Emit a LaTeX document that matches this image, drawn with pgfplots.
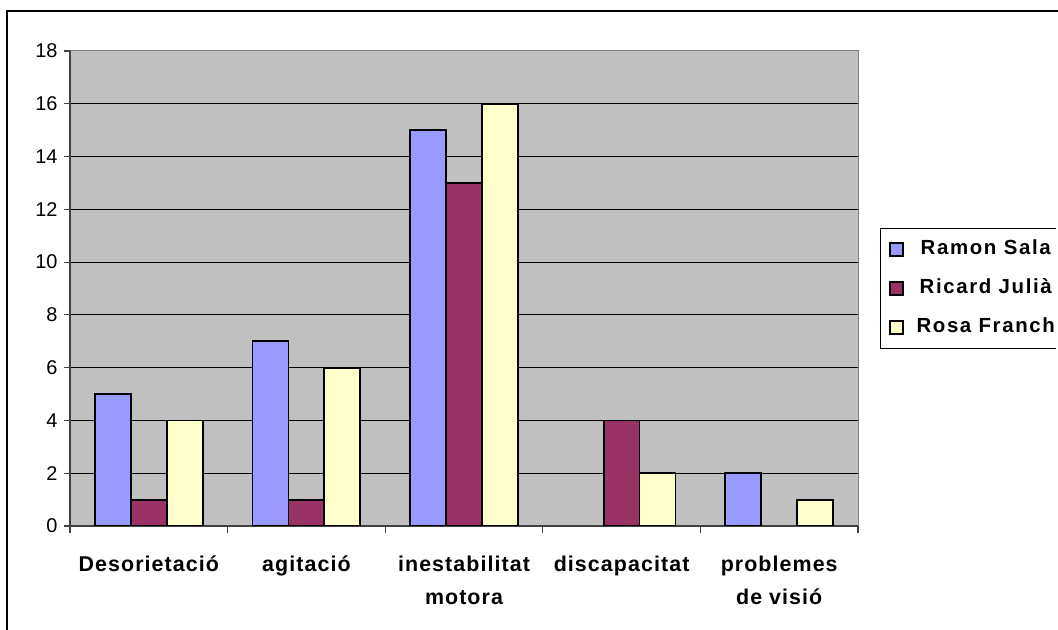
\documentclass[border=0pt]{standalone}
\usepackage{pgfplots}
\pgfplotsset{compat=1.18}
\usepackage{fontspec}
\setmainfont{Liberation Sans}
\newfontfamily\catfont[LetterSpace=5]{Liberation Sans}
\newfontfamily\legfont[LetterSpace=8]{Liberation Sans}
\definecolor{ramon}{HTML}{9999FF}
\definecolor{ricard}{HTML}{993366}
\definecolor{rosa}{HTML}{FFFFCC}
\definecolor{plotbg}{HTML}{C0C0C0}

\begin{document}
\begin{tikzpicture}
\path[use as bounding box] (0bp,0bp) rectangle (1058bp,630bp);
% chart frame (runs off the right and bottom edges)
\draw[line width=2bp] (1058bp,619bp) -- (7bp,619bp) -- (7bp,0bp);
\begin{axis}[
  at={(70bp,104bp)}, anchor=south west,
  scale only axis, width=788bp, height=475bp,
  xmin=-0.5, xmax=4.5, ymin=0, ymax=18,
  ybar=0pt, bar width=0.228,
  axis x line*=bottom, axis y line*=left,
  axis line style={black!75, line width=1.3bp},
  axis background/.style={fill=plotbg, draw=black!50, line width=1bp},
  ytick={0,2,...,16},
  extra y ticks={18}, extra y tick style={grid=none},
  ymajorgrids, major grid style={black, line width=1bp},
  xtick={0,...,4},
  xticklabels={Desorietació, agitació, {inestabilitat\\motora}, discapacitat, {problemes\\de visió}},
  minor xtick={-0.5,0.5,...,4.5},
  tick align=outside,
  major tick length=6bp, minor tick length=7bp,
  major x tick style={draw=none},
  minor x tick style={black!75, line width=1.2bp},
  y tick style={black!75, line width=1.2bp},
  /pgf/number format/assume math mode=true,
  yticklabel style={font=\fontsize{20}{22}\selectfont, xshift=-3bp},
  xticklabel style={font=\catfont\bfseries\fontsize{21.5}{34}\selectfont, align=center, yshift=-20bp},
  legend entries={Ramon Sala, Ricard Julià, Rosa Franch},
  legend image code/.code={\draw[#1, line width=1.3bp] (0bp,-6.5bp) rectangle (13bp,6.5bp);},
  legend style={name=leg, at={(1,0.5)}, anchor=west, xshift=22bp, draw=none, fill=none,
    font=\legfont\bfseries\fontsize{20.5}{24}\selectfont,
    inner xsep=9bp, inner ysep=11bp, row sep=20bp,
    /tikz/every odd column/.append style={column sep=13bp},
    nodes={inner sep=0bp, text height=15bp, text depth=4bp}},
]
% zero counts are left out: they draw no bar
\addplot[fill=ramon, draw=black, line width=1.8bp] coordinates {(0,5) (1,7) (2,15) (4,2)};
\addplot[fill=ricard, draw=black, line width=1.8bp] coordinates {(0,1) (1,1) (2,13) (3,4)};
\addplot[fill=rosa, draw=black, line width=1.8bp] coordinates {(0,4) (1,6) (2,16) (3,2) (4,1)};
\end{axis}
% legend frame, open towards the right edge
\draw[line width=1bp] (1056bp,0bp |- leg.north west) -- (leg.north west)
  -- (leg.south west) -- (1056bp,0bp |- leg.south west);
\end{tikzpicture}
\end{document}
